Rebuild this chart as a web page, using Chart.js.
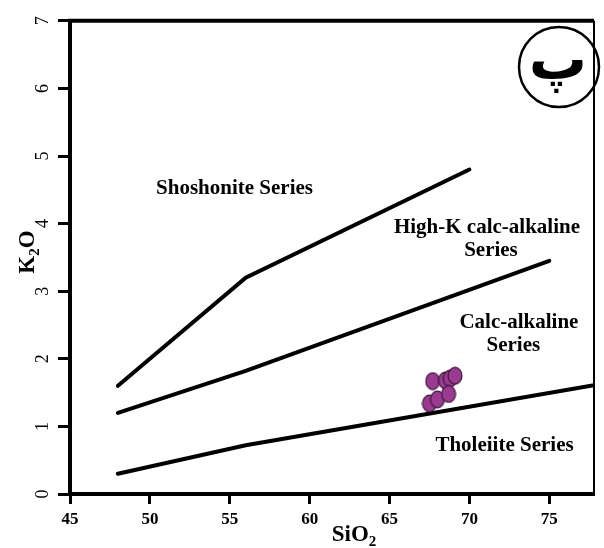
<!DOCTYPE html>
<html>
<head>
<meta charset="utf-8">
<script src="https://cdn.jsdelivr.net/npm/chart.js@4.4.1/dist/chart.umd.min.js"></script>
<style>
  html, body { margin: 0; padding: 0; background: #fff; }
  #wrap { width: 604px; height: 548px; }
</style>
</head>
<body>
<div id="wrap"><canvas id="chart" width="604" height="548"></canvas></div>
<script>
// series boundaries, [SiO2, K2O]
const tholeiiteLine = [[48, 0.3], [56, 0.72], [77.8, 1.61]];
const calcAlkLine = [[48, 1.2], [56, 1.82], [75, 3.45]];
const highKLine = [[48, 1.6], [56, 3.2], [70, 4.8]];

// samples
const sampleSiO2 = [67.7, 68.5, 68.8, 69.1, 67.5, 68.0, 68.7];
const sampleK2O = [1.67, 1.68, 1.71, 1.75, 1.34, 1.40, 1.48];

const siTicks = [45, 50, 55, 60, 65, 70, 75];
const kTicks = [0, 1, 2, 3, 4, 5, 6, 7];

// field names, anchored in data units
const fieldLabels = [
  ["Shoshonite Series", 55.3, 4.52],
  ["High-K calc-alkaline", 71.1, 3.94],
  ["Series", 71.35, 3.6],
  ["Calc-alkaline", 73.1, 2.54],
  ["Series", 72.75, 2.2],
  ["Tholeiite Series", 72.2, 0.71],
];

const serif = "'Liberation Serif', 'Times New Roman', serif";

function toPoints(line) {
  return line.map((p) => ({ x: p[0], y: p[1] }));
}

function ellipseDot() {
  const c = document.createElement("canvas");
  c.width = 16;
  c.height = 19;
  const g = c.getContext("2d");
  g.beginPath();
  g.ellipse(8, 9.5, 6.9, 8.4, 0, 0, Math.PI * 2);
  g.fillStyle = "#9b3a90";
  g.fill();
  g.lineWidth = 1.2;
  g.strokeStyle = "#3a1837";
  g.stroke();
  return c;
}

function boundary(line) {
  return {
    type: "line",
    data: toPoints(line),
    showLine: true,
    borderColor: "#000",
    borderWidth: 4,
    borderCapStyle: "round",
    pointRadius: 0,
    fill: false,
  };
}

// text with a subscript part, e.g. SiO2
function drawSubText(ctx, parts, x, y) {
  const big = "bold 23px " + serif;
  const small = "bold 15px " + serif;
  let total = 0;
  parts.forEach((p) => {
    ctx.font = p.sub ? small : big;
    total += ctx.measureText(p.t).width;
  });
  let cx = x - total / 2;
  ctx.textAlign = "left";
  ctx.textBaseline = "alphabetic";
  parts.forEach((p) => {
    ctx.font = p.sub ? small : big;
    ctx.fillText(p.t, cx, p.sub ? y + 5 : y);
    cx += ctx.measureText(p.t).width;
  });
}

const decorations = {
  id: "decorations",
  afterDraw(chart) {
    const ctx = chart.ctx;
    const area = chart.chartArea;
    const xs = chart.scales.x;
    const ys = chart.scales.y;
    ctx.save();
    ctx.fillStyle = "#000";
    ctx.strokeStyle = "#000";

    // top and right frame
    ctx.lineWidth = 4;
    ctx.beginPath();
    ctx.moveTo(area.left - 2, area.top);
    ctx.lineTo(area.right, area.top);
    ctx.stroke();
    ctx.lineWidth = 2;
    ctx.beginPath();
    ctx.moveTo(area.right, area.top);
    ctx.lineTo(area.right, area.bottom);
    ctx.stroke();

    // field names
    ctx.font = "bold 21px " + serif;
    ctx.textAlign = "center";
    ctx.textBaseline = "middle";
    fieldLabels.forEach((l) => {
      ctx.fillText(l[0], xs.getPixelForValue(l[1]), ys.getPixelForValue(l[2]));
    });

    // axis titles
    drawSubText(ctx, [{ t: "SiO" }, { t: "2", sub: true }], 354, 541);
    ctx.save();
    ctx.translate(34, 252);
    ctx.rotate(-Math.PI / 2);
    drawSubText(ctx, [{ t: "K" }, { t: "2", sub: true }, { t: "O" }], 0, 0);
    ctx.restore();

    // panel letter in a circle
    ctx.lineWidth = 2.5;
    ctx.beginPath();
    ctx.arc(559, 67, 40, 0, Math.PI * 2);
    ctx.stroke();
    ctx.font = "bold 58px 'DejaVu Sans'";
    ctx.textAlign = "center";
    ctx.textBaseline = "alphabetic";
    ctx.fillText("پ", 558, 79);

    ctx.restore();
  },
};

const dot = ellipseDot();

new Chart(document.getElementById("chart"), {
  type: "scatter",
  data: {
    datasets: [
      {
        data: sampleSiO2.map((v, i) => ({ x: v, y: sampleK2O[i] })),
        pointStyle: dot,
        pointRadius: 9,
      },
      boundary(tholeiiteLine),
      boundary(calcAlkLine),
      boundary(highKLine),
    ],
  },
  options: {
    responsive: false,
    animation: false,
    layout: { padding: { left: 0, top: 20, right: 2, bottom: 0 } },
    plugins: {
      legend: { display: false },
      tooltip: { enabled: false },
    },
    scales: {
      x: {
        type: "linear",
        min: 45,
        max: 77.8,
        afterBuildTicks: (scale) => {
          scale.ticks = siTicks.map((v) => ({ value: v }));
        },
        afterFit: (scale) => {
          scale.height = 54;
        },
        border: { display: true, color: "#000", width: 4 },
        grid: {
          drawOnChartArea: false,
          drawTicks: true,
          tickLength: 10,
          tickWidth: 3,
          tickColor: "#000",
        },
        ticks: {
          padding: 5,
          color: "#000",
          font: { family: serif, weight: "bold", size: 17 },
          maxRotation: 0,
        },
      },
      y: {
        type: "linear",
        min: 0,
        max: 7,
        afterBuildTicks: (scale) => {
          scale.ticks = kTicks.map((v) => ({ value: v }));
        },
        afterFit: (scale) => {
          scale.width = 70;
        },
        border: { display: true, color: "#000", width: 4 },
        grid: {
          drawOnChartArea: false,
          drawTicks: true,
          tickLength: 12,
          tickWidth: 3,
          tickColor: "#000",
        },
        ticks: {
          minRotation: 90,
          maxRotation: 90,
          crossAlign: "center",
          padding: 10,
          color: "#000",
          font: { family: serif, weight: "normal", size: 18 },
        },
      },
    },
  },
  plugins: [decorations],
});
</script>
</body>
</html>
